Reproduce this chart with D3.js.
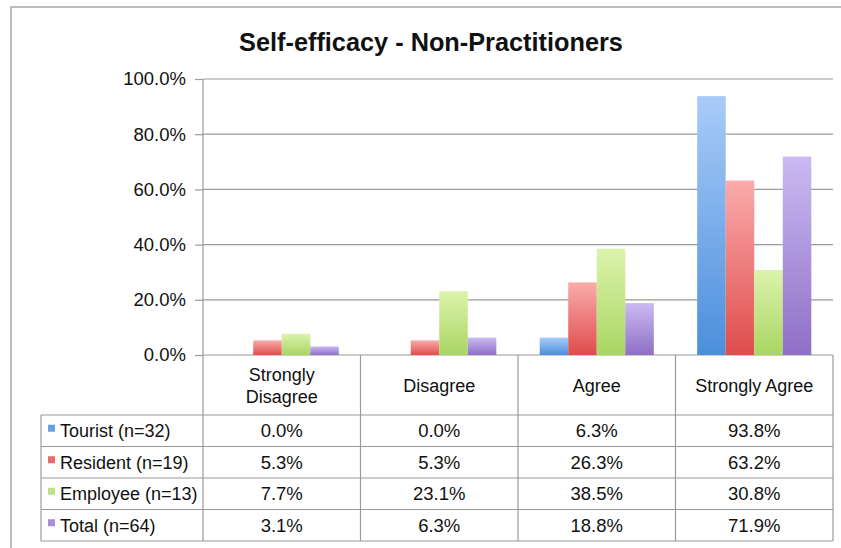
<!DOCTYPE html>
<html>
<head>
<meta charset="utf-8">
<script src="https://cdn.jsdelivr.net/npm/d3@7"></script>
<style>
  html, body { margin: 0; padding: 0; background: #fff; }
  svg { display: block; font-family: "Liberation Sans", Arial, sans-serif; }
</style>
</head>
<body>
<svg id="chart" width="841" height="548"></svg>
<script>
// Response categories (x axis / table columns)
const categories = [["Strongly", "Disagree"], ["Disagree"], ["Agree"], ["Strongly Agree"]];
// Respondent groups
const seriesNames = ["Tourist (n=32)", "Resident (n=19)", "Employee (n=13)", "Total (n=64)"];
// Percentages per group, one value per category
const tourist  = [0.0, 0.0, 6.3, 93.8];
const resident = [5.3, 5.3, 26.3, 63.2];
const employee = [7.7, 23.1, 38.5, 30.8];
const total    = [3.1, 6.3, 18.8, 71.9];
const yTicks = [0, 20, 40, 60, 80, 100];

const seriesValues = [tourist, resident, employee, total];
const colorStops = [
  ["#a9cbf9", "#4b8fdb"],
  ["#fbabab", "#df4c4c"],
  ["#dcf3ac", "#a9d663"],
  ["#cbbaf2", "#8e6fc6"]
];
const keyColors = ["#6a9fe0", "#e86a6a", "#bde08a", "#a88fd6"];

const svg = d3.select("#chart");
const W = 841, H = 548;
const labelSize = 18, numberSize = 18.5;

// Outer frame
svg.append("path")
  .attr("d", `M11,${H + 2} L11,7 L${W + 2},7`)
  .attr("fill", "none").attr("stroke", "#a9a9a9").attr("stroke-width", 1.5);

// Title
svg.append("text")
  .attr("x", 431).attr("y", 51)
  .attr("text-anchor", "middle")
  .attr("font-size", 25.3).attr("font-weight", "bold").attr("fill", "#111")
  .text("Self-efficacy - Non-Practitioners");

const plotLeft = 203, plotRight = 833, plotTop = 79, plotBottom = 355;
const tableLeft = 41;
const rowLines = [415, 446.5, 478, 509.5, 541];

const x0 = d3.scaleBand().domain(d3.range(categories.length)).range([plotLeft, plotRight]).paddingInner(0).paddingOuter(0);
const x1 = d3.scaleBand().domain(d3.range(seriesNames.length)).range([0, x0.bandwidth()]).paddingOuter(0.76).paddingInner(0);
const y = d3.scaleLinear().domain([0, 100]).range([plotBottom, plotTop]);

const gridColor = "#9a9a9a";

// Gradients
const defs = svg.append("defs");
colorStops.forEach((c, i) => {
  const g = defs.append("linearGradient").attr("id", "grad" + i)
    .attr("x1", 0).attr("y1", 0).attr("x2", 0).attr("y2", 1);
  g.append("stop").attr("offset", "0%").attr("stop-color", c[0]);
  g.append("stop").attr("offset", "100%").attr("stop-color", c[1]);
});

// Gridlines
svg.append("g").selectAll("line").data(yTicks).join("line")
  .attr("x1", plotLeft).attr("x2", plotRight)
  .attr("y1", d => y(d)).attr("y2", d => y(d))
  .attr("stroke", gridColor).attr("stroke-width", 1.2);

// Y axis with tick labels
const yAxis = d3.axisLeft(y).tickValues(yTicks).tickSize(8).tickPadding(9)
  .tickFormat(d => d3.format(".1f")(d) + "%");
const ag = svg.append("g").attr("transform", `translate(${plotLeft},0)`).call(yAxis);
ag.select(".domain").remove();
ag.selectAll(".tick line").attr("stroke", gridColor).attr("stroke-width", 1.2);
ag.selectAll(".tick text").attr("font-size", numberSize).attr("fill", "#111")
  .attr("font-family", "Liberation Sans, Arial, sans-serif");

// Bars
const groups = svg.append("g").selectAll("g").data(categories).join("g")
  .attr("transform", (d, i) => `translate(${x0(i)},0)`);
groups.selectAll("rect")
  .data((d, ci) => seriesValues.map((vals, si) => ({ si, v: vals[ci] })))
  .join("rect")
  .attr("x", d => x1(d.si))
  .attr("width", x1.bandwidth())
  .attr("y", d => y(d.v))
  .attr("height", d => y(0) - y(d.v))
  .attr("fill", d => `url(#grad${d.si})`);

// Data table lines
const lines = svg.append("g").attr("stroke", gridColor).attr("stroke-width", 1.2);
// vertical axis line through plot and table
lines.append("line").attr("x1", plotLeft).attr("x2", plotLeft).attr("y1", plotTop).attr("y2", rowLines[rowLines.length - 1]);
// column separators
d3.range(1, categories.length + 1).forEach(i => {
  const xx = i < categories.length ? x0(i) : plotRight;
  lines.append("line").attr("x1", xx).attr("x2", xx).attr("y1", plotBottom).attr("y2", rowLines[rowLines.length - 1]);
});
// table left edge
lines.append("line").attr("x1", tableLeft).attr("x2", tableLeft).attr("y1", rowLines[0]).attr("y2", rowLines[rowLines.length - 1]);
// row separators
rowLines.forEach(ry => {
  lines.append("line").attr("x1", tableLeft).attr("x2", plotRight).attr("y1", ry).attr("y2", ry);
});

// Category header labels
categories.forEach((lab, i) => {
  const cx = x0(i) + x0.bandwidth() / 2;
  const cy = (plotBottom + rowLines[0]) / 2;
  const lh = 22;
  const t = svg.append("text").attr("text-anchor", "middle").attr("font-size", labelSize).attr("fill", "#111");
  lab.forEach((ln, k) => {
    t.append("tspan").attr("x", cx)
      .attr("y", cy + (k - (lab.length - 1) / 2) * lh + 7)
      .text(ln);
  });
});

// Table rows: legend key, series label, values
seriesNames.forEach((name, si) => {
  const ry0 = rowLines[si], ry1 = rowLines[si + 1];
  const cy = (ry0 + ry1) / 2;
  svg.append("rect").attr("x", 48).attr("y", cy - 6).attr("width", 7).attr("height", 7)
    .attr("fill", keyColors[si]);
  svg.append("text").attr("x", 60).attr("y", cy + 6.5)
    .attr("font-size", labelSize).attr("fill", "#111").text(name);
  seriesValues[si].forEach((v, ci) => {
    svg.append("text").attr("x", x0(ci) + x0.bandwidth() / 2).attr("y", cy + 6.5)
      .attr("text-anchor", "middle").attr("font-size", numberSize).attr("fill", "#111")
      .text(d3.format(".1f")(v) + "%");
  });
});
</script>
</body>
</html>
